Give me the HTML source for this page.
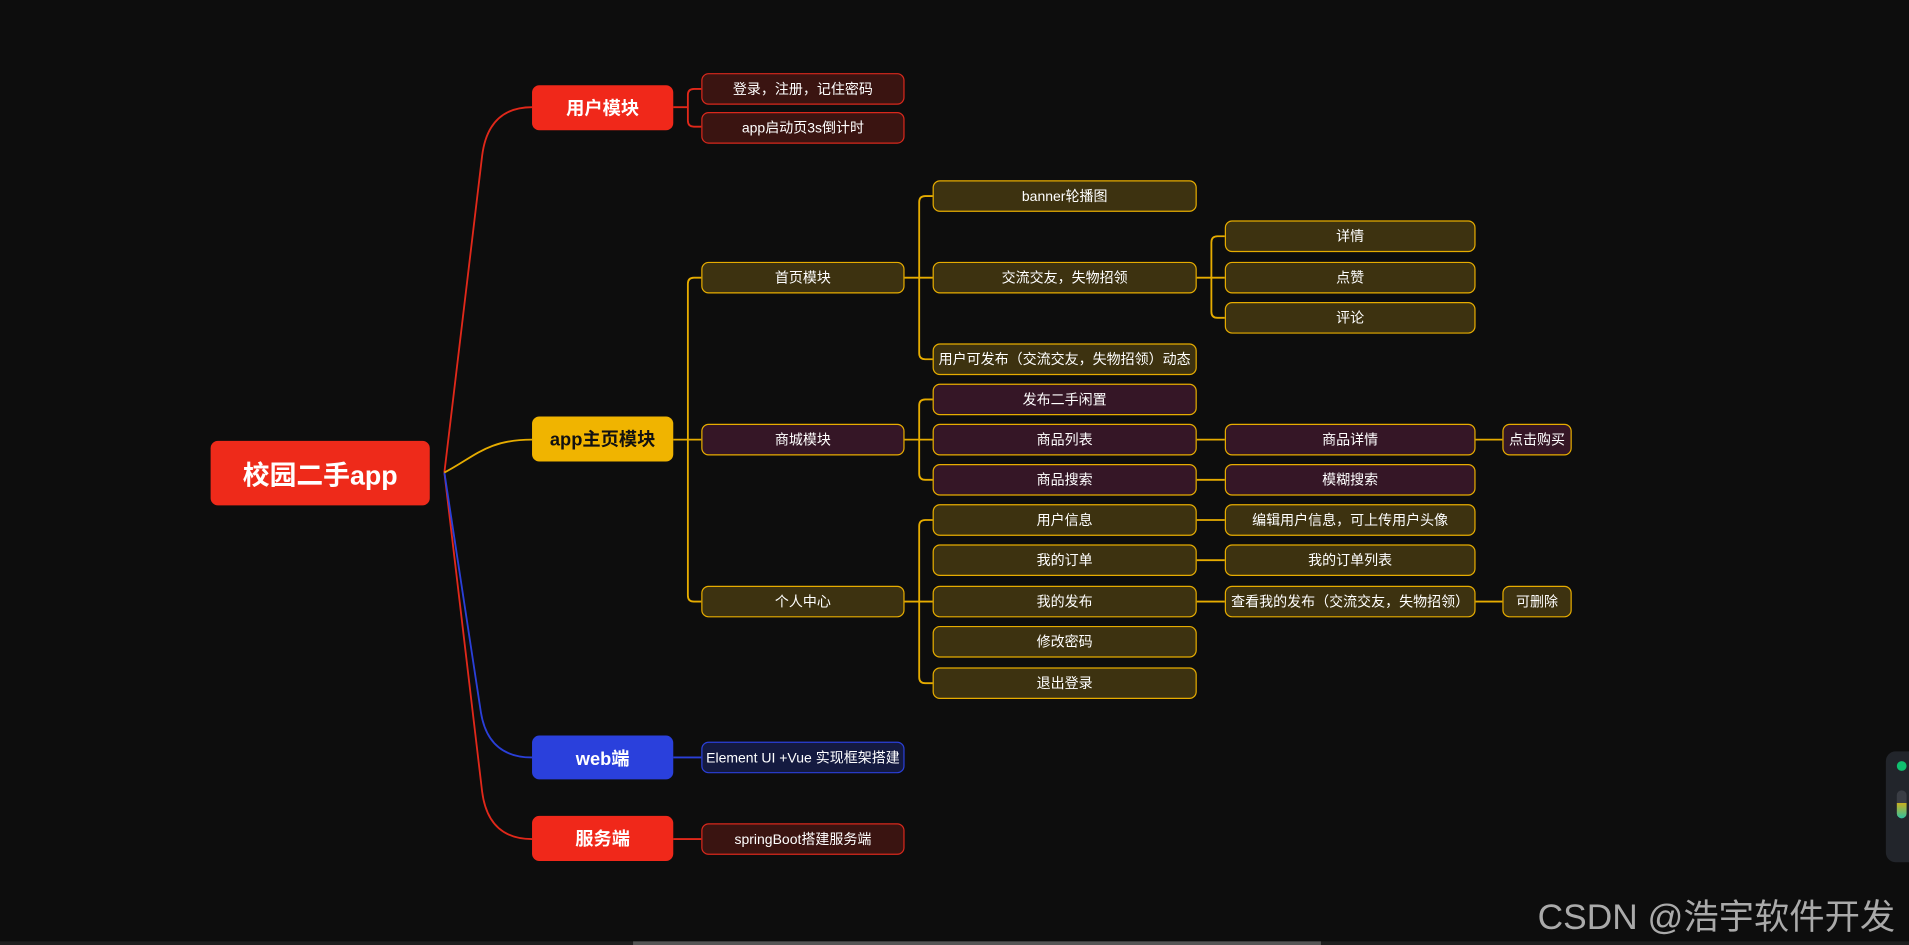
<!DOCTYPE html>
<html><head><meta charset="utf-8"><style>
html,body{margin:0;padding:0;background:#0d0d0d;overflow:hidden}
#w{position:absolute;left:0;top:0;width:1568px;height:776px;transform:scale(1.21747,1.2178);transform-origin:0 0;background:#0d0d0d;font-family:"Liberation Sans","Noto Sans CJK SC",sans-serif}
.n{position:absolute;box-sizing:border-box;display:flex;align-items:center;justify-content:center;color:#fff;font-size:11.5px;border-radius:6px;border:1px solid;white-space:nowrap;padding:0 2px}
.r{background:#3a1411;border-color:#d8281c}
.y{background:#3d3210;border-color:#e6ac00}
.p{background:#351626;border-color:#e6ac00}
.b{background:#141a40;border-color:#2a3fd8}
.L{font-size:15px;font-weight:bold;border:none;border-radius:6px}
svg{position:absolute;left:0;top:0}
</style></head><body><div id="w">
<svg width="1568" height="776" fill="none" stroke-width="1.5">
<g stroke="#e0281a"><path d="M365 388 L396 128 Q401 88 437 88"/><path d="M365 388 L396 650 Q401 689 437 689"/>
<path d="M553 88 H565 M576 73 H570 Q565 73 565 78 V99 Q565 104 570 104 H576"/><path d="M553 689 H576"/></g>
<g stroke="#2a3fd8"><path d="M365 388 L395 585 Q401 622 437 622"/><path d="M553 622 H576"/></g>
<g stroke="#e6ac00"><path d="M365 388 C390 375 400 361 437 361"/>
<path d="M553 361 H576 M576 228 H570 Q565 228 565 233 V489 Q565 494 570 494 H576"/>
<path d="M743 228 H766 M766 161 H760 Q755 161 755 166 V290 Q755 295 760 295 H766"/>
<path d="M983 228 H1006 M1006 194 H1000 Q995 194 995 199 V256 Q995 261 1000 261 H1006"/>
<path d="M743 361 H766 M766 328 H760 Q755 328 755 333 V389 Q755 394 760 394 H766"/>
<path d="M983 361 H1006 M1212 361 H1234 M983 394 H1006"/>
<path d="M743 494 H766 M766 427 H760 Q755 427 755 432 V556 Q755 561 760 561 H766"/>
<path d="M983 427 H1006 M983 460 H1006 M983 494 H1006 M1212 494 H1234"/></g>
</svg>
<div class="n" style="left:173px;top:362px;width:180px;height:53px;background:#ee2a1a;border:none;font-size:22px;font-weight:bold">校园二手app</div>
<div class="n L" style="left:437px;top:70px;width:116px;height:37px;background:#f0281a">用户模块</div>
<div class="n L" style="left:437px;top:342px;width:116px;height:37px;background:#f0b400;color:#111">app主页模块</div>
<div class="n L" style="left:437px;top:604px;width:116px;height:36px;background:#2a40dc">web端</div>
<div class="n L" style="left:437px;top:670px;width:116px;height:37px;background:#f0281a">服务端</div>

<div class="n r" style="left:576px;top:60px;width:167px;height:26px">登录，注册，记住密码</div>
<div class="n r" style="left:576px;top:92px;width:167px;height:26px">app启动页3s倒计时</div>
<div class="n y" style="left:576px;top:215px;width:167px;height:26px">首页模块</div>
<div class="n p" style="left:576px;top:348px;width:167px;height:26px">商城模块</div>
<div class="n y" style="left:576px;top:481px;width:167px;height:26px">个人中心</div>
<div class="n b" style="left:576px;top:609px;width:167px;height:26px">Element UI +Vue 实现框架搭建</div>
<div class="n r" style="left:576px;top:676px;width:167px;height:26px">springBoot搭建服务端</div>

<div class="n y" style="left:766px;top:148px;width:217px;height:26px">banner轮播图</div>
<div class="n y" style="left:766px;top:215px;width:217px;height:26px">交流交友，失物招领</div>
<div class="n y" style="left:766px;top:282px;width:217px;height:26px">用户可发布（交流交友，失物招领）动态</div>
<div class="n p" style="left:766px;top:315px;width:217px;height:26px">发布二手闲置</div>
<div class="n p" style="left:766px;top:348px;width:217px;height:26px">商品列表</div>
<div class="n p" style="left:766px;top:381px;width:217px;height:26px">商品搜索</div>
<div class="n y" style="left:766px;top:414px;width:217px;height:26px">用户信息</div>
<div class="n y" style="left:766px;top:447px;width:217px;height:26px">我的订单</div>
<div class="n y" style="left:766px;top:481px;width:217px;height:26px">我的发布</div>
<div class="n y" style="left:766px;top:514px;width:217px;height:26px">修改密码</div>
<div class="n y" style="left:766px;top:548px;width:217px;height:26px">退出登录</div>

<div class="n y" style="left:1006px;top:181px;width:206px;height:26px">详情</div>
<div class="n y" style="left:1006px;top:215px;width:206px;height:26px">点赞</div>
<div class="n y" style="left:1006px;top:248px;width:206px;height:26px">评论</div>
<div class="n p" style="left:1006px;top:348px;width:206px;height:26px">商品详情</div>
<div class="n p" style="left:1006px;top:381px;width:206px;height:26px">模糊搜索</div>
<div class="n y" style="left:1006px;top:414px;width:206px;height:26px">编辑用户信息，可上传用户头像</div>
<div class="n y" style="left:1006px;top:447px;width:206px;height:26px">我的订单列表</div>
<div class="n y" style="left:1006px;top:481px;width:206px;height:26px">查看我的发布（交流交友，失物招领）</div>
<div class="n p" style="left:1234px;top:348px;width:57px;height:26px">点击购买</div>
<div class="n y" style="left:1234px;top:481px;width:57px;height:26px">可删除</div>

<div style="position:absolute;left:1549px;top:617px;width:30px;height:91px;background:#22252b;border-radius:8px"></div>
<div style="position:absolute;left:1558px;top:625px;width:8px;height:8px;border-radius:50%;background:#10c070"></div>
<div style="position:absolute;left:1558px;top:649px;width:8px;height:23px;border-radius:4px;background:linear-gradient(#3a3d44 0 45%,#c8b020 45%,#30c0a0)"></div>
<div style="position:absolute;left:1263px;top:730px;color:#aaa;font-size:29px;white-space:nowrap;font-family:'Liberation Sans','Noto Sans CJK SC',sans-serif">CSDN @浩宇软件开发</div>
<div style="position:absolute;left:0;top:773px;width:1568px;height:3px;background:#1e1e1e"></div>
<div style="position:absolute;left:520px;top:773px;width:565px;height:3px;background:#555"></div>
</div></body></html>
